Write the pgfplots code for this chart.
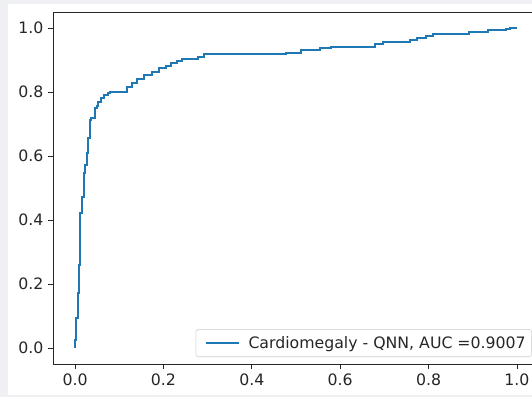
\documentclass[border=0pt]{standalone}
\usepackage{fontspec}
\setmainfont{DejaVu Sans}
\usepackage{pgfplots}
\pgfplotsset{compat=1.18}
\definecolor{c0}{HTML}{1F77B4}
\definecolor{bgcol}{HTML}{EEF0F4}
\definecolor{spine}{HTML}{262626}
\definecolor{legbd}{HTML}{CCCCCC}
\begin{document}
\begin{tikzpicture}
\fill[bgcol] (0pt,0pt) rectangle (399pt,297.75pt);
\fill[white] (6pt,1.5pt) rectangle (399pt,294.75pt);
\begin{scope}
\clip (0pt,0pt) rectangle (399pt,297.75pt);
\begin{axis}[
  at={(39.75pt,24.75pt)}, anchor=south west,
  scale only axis, width=364.5pt, height=264pt,
  xmin=-0.05, xmax=1.05, ymin=-0.05, ymax=1.05,
  xtick={0,0.2,0.4,0.6,0.8,1.0},
  ytick={0,0.2,0.4,0.6,0.8,1.0},
  tick pos=left, tick align=outside,
  major tick length=3.6pt,
  every tick/.style={spine, line width=0.6pt},
  axis line style={spine, line width=0.6pt},
  font=\fontsize{11.8}{14}\selectfont,
  tick label style={font=\fontsize{11.8}{14}\selectfont, text=spine},
  /pgf/number format/assume math mode=true,
  /pgf/number format/.cd, fixed, fixed zerofill, precision=1, /pgfplots/.cd,
  legend style={at={(1,0)}, anchor=south east, xshift=-5.25pt, yshift=5.25pt,
    draw=legbd, rounded corners=2pt, fill=white, text=spine,
    font=\fontsize{11.8}{14}\selectfont, inner xsep=2.5pt, inner ysep=3pt},
  legend cell align=left,
  legend image code/.code={\path (-4.5pt,0pt); \draw[#1] (0pt,0pt) -- (24.75pt,0pt); \path (29pt,0pt);},
]
\addplot[const plot, color=c0, line width=1.5pt] coordinates {
(0,0) (0,0.025) (0.0023,0.094) (0.0056,0.172) (0.0079,0.259) (0.0113,0.422)
(0.0158,0.472) (0.0192,0.547) (0.0226,0.572) (0.0271,0.609) (0.0293,0.656)
(0.0327,0.7125) (0.0361,0.719) (0.0451,0.75) (0.0497,0.756) (0.0519,0.769)
(0.0587,0.781) (0.0655,0.791) (0.0745,0.797) (0.079,0.8) (0.1174,0.816)
(0.1287,0.828) (0.140,0.841) (0.1558,0.853) (0.1738,0.8625) (0.1896,0.875)
(0.2054,0.881) (0.2167,0.891) (0.2302,0.897) (0.2415,0.902) (0.2777,0.909)
(0.2912,0.918) (0.4763,0.923) (0.5102,0.931) (0.5553,0.937) (0.5801,0.942)
(0.6795,0.949) (0.6975,0.956) (0.7585,0.9625) (0.7743,0.968) (0.7946,0.976)
(0.8104,0.981) (0.8916,0.988) (0.9345,0.994) (0.9752,0.997) (0.9842,1.0)
(1.0,1.0)
};
\addlegendentry{Cardiomegaly - QNN, AUC =0.9007}
\end{axis}
\end{scope}
\pgfresetboundingbox
\path[use as bounding box] (0pt,0pt) rectangle (399pt,297.75pt);
\end{tikzpicture}
\end{document}
